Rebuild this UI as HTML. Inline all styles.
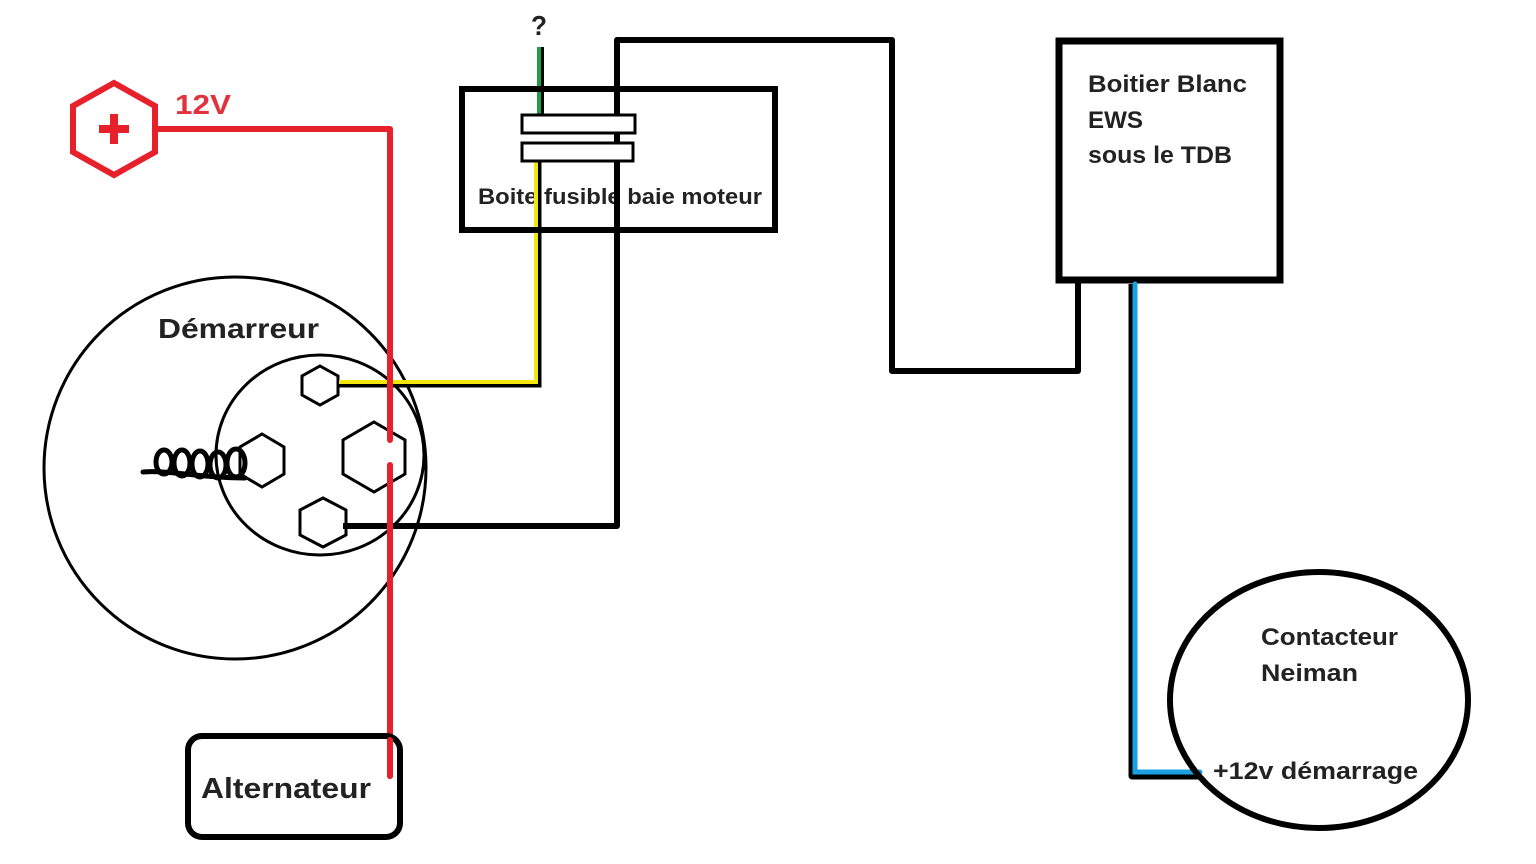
<!DOCTYPE html>
<html><head><meta charset="utf-8"><style>
html,body{margin:0;padding:0;background:#fff;}
svg{display:block;}
text{font-family:"Liberation Sans",sans-serif;font-weight:bold;fill:#222;}
</style></head><body>
<svg width="1536" height="864" viewBox="0 0 1536 864" xmlns="http://www.w3.org/2000/svg">
<rect width="1536" height="864" fill="#fff"/>

<!-- Demarreur circles -->
<circle cx="235" cy="468" r="191" fill="none" stroke="#000" stroke-width="3"/>
<ellipse cx="320" cy="455" rx="104" ry="100" fill="none" stroke="#000" stroke-width="3"/>
<text x="158" y="338" font-size="28" textLength="161" lengthAdjust="spacingAndGlyphs">Démarreur</text>

<!-- hexes -->
<polygon points="320,366 338,376 338,395 320,405 302,395 302,376" fill="none" stroke="#000" stroke-width="3"/>
<polygon points="262,434 284,447 284,474 262,487 240,474 240,447" fill="none" stroke="#000" stroke-width="3"/>
<polygon points="374,422 405,440 405,474 374,492 343,474 343,440" fill="none" stroke="#000" stroke-width="3"/>
<polygon points="323,498 346,510 346,535 323,547 300,535 300,510" fill="none" stroke="#000" stroke-width="3"/>

<!-- coil -->
<g fill="none" stroke="#000" stroke-width="5">
<ellipse cx="164" cy="462" rx="8" ry="12"/>
<ellipse cx="182" cy="463" rx="8" ry="13"/>
<ellipse cx="200" cy="464" rx="8" ry="13"/>
<ellipse cx="218" cy="465" rx="8" ry="13"/>
<ellipse cx="236" cy="463" rx="9" ry="14"/>
</g>
<path d="M143,472 C170,470 200,478 245,478" fill="none" stroke="#000" stroke-width="5" stroke-linecap="round"/>

<!-- black wire -->
<polyline points="343,526 617,526 617,40 892,40 892,371 1078,371 1078,280" fill="none" stroke="#000" stroke-width="6" stroke-linejoin="round"/>

<!-- yellow wire -->
<polyline points="339,384 538,384 538,160" fill="none" stroke="#000" stroke-width="7"/>
<polyline points="339,382 536,382 536,160" fill="none" stroke="#f5e60a" stroke-width="4"/>

<!-- green wire -->
<line x1="541" y1="47" x2="541" y2="116" stroke="#000" stroke-width="6"/>
<line x1="539" y1="47" x2="539" y2="116" stroke="#1f9e48" stroke-width="4"/>
<text x="531" y="35" font-size="28" textLength="16" lengthAdjust="spacingAndGlyphs">?</text>

<!-- fuse box -->
<rect x="462" y="89" width="313" height="141" fill="none" stroke="#000" stroke-width="6"/>
<rect x="522" y="115" width="113" height="18" fill="#fff" stroke="#000" stroke-width="3"/>
<rect x="522" y="143" width="111" height="18" fill="#fff" stroke="#000" stroke-width="3"/>
<text x="478" y="204" font-size="22" textLength="284" lengthAdjust="spacingAndGlyphs">Boite fusible baie moteur</text>
<line x1="538" y1="185" x2="538" y2="212" stroke="#000" stroke-width="7"/>
<line x1="536" y1="185" x2="536" y2="212" stroke="#f5e60a" stroke-width="4"/>
<line x1="617" y1="185" x2="617" y2="212" stroke="#000" stroke-width="6"/>

<!-- red wire -->
<polygon points="114,83 155,106 155,152 114,175 73,152 73,106" fill="#fff" stroke="#e6212b" stroke-width="6"/>
<rect x="110" y="114" width="8" height="30" fill="#e6212b"/>
<rect x="99" y="125" width="30" height="8" fill="#e6212b"/>
<text x="175" y="114" font-size="28" textLength="56" lengthAdjust="spacingAndGlyphs" style="fill:#e0333d">12V</text>
<polyline points="157,129 390,129 390,440" fill="none" stroke="#e6212b" stroke-width="6" stroke-linejoin="round" stroke-linecap="round"/>
<line x1="390" y1="465" x2="390" y2="776" stroke="#e6212b" stroke-width="6" stroke-linecap="round"/>

<!-- EWS box -->
<rect x="1059" y="41" width="221" height="239" fill="#fff" stroke="#000" stroke-width="7"/>
<text x="1088" y="92" font-size="24" textLength="159" lengthAdjust="spacingAndGlyphs">Boitier Blanc</text>
<text x="1088" y="128" font-size="24" textLength="55" lengthAdjust="spacingAndGlyphs">EWS</text>
<text x="1088" y="163" font-size="24" textLength="144" lengthAdjust="spacingAndGlyphs">sous le TDB</text>

<!-- blue wire -->
<polyline points="1132,284 1132,776 1200,776" fill="none" stroke="#000" stroke-width="7" stroke-linejoin="round"/>
<polyline points="1135,284 1135,772 1200,772" fill="none" stroke="#1a9fe0" stroke-width="5" stroke-linecap="round"/>

<!-- Neiman -->
<ellipse cx="1319" cy="700" rx="149" ry="128" fill="none" stroke="#000" stroke-width="6"/>
<text x="1261" y="645" font-size="24" textLength="137" lengthAdjust="spacingAndGlyphs">Contacteur</text>
<text x="1261" y="681" font-size="24" textLength="97" lengthAdjust="spacingAndGlyphs">Neiman</text>
<text x="1213" y="779" font-size="24" textLength="205" lengthAdjust="spacingAndGlyphs">+12v démarrage</text>

<!-- Alternateur -->
<rect x="188" y="736" width="212" height="101" rx="14" ry="14" fill="none" stroke="#000" stroke-width="6"/>
<text x="201" y="798" font-size="29" textLength="170" lengthAdjust="spacingAndGlyphs">Alternateur</text>
<line x1="390" y1="740" x2="390" y2="776" stroke="#e6212b" stroke-width="6" stroke-linecap="round"/>
</svg>
</body></html>
